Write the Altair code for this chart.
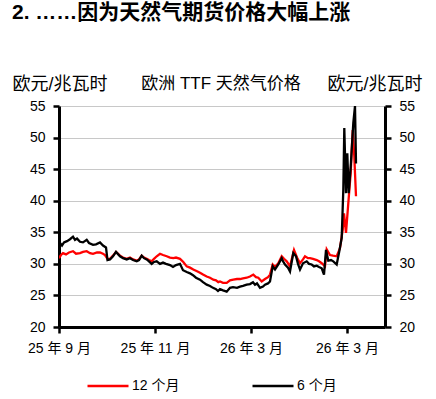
import altair as alt
import pandas as pd

# ---- data ----
x_6m = [0,1,3,5,8,11,14,16,18,21,24,27.7,30,34,37,41,44,47,48.5,51,54,57,61,64,67.7,71,74,77.7,80,82.7,85,87.7,90,92.7,95,97.7,101,104,107,111,114,117,121,124,127.7,131,134,137,141,144,147.7,151,154,157,159,161,164,167.7,171,174,178,181,184,187.7,191,194,196,198,201,204,206,209,211,213.7,216,219.3,222.7,224,226,229,231,234.3,237,239,241,244,247.7,250,252.7,255,257.7,260,262.7,265,267,269.3,272,274.3,277.7,280.3,282.7,284.3,285.3,287,288.3,289.7,291.7,294.3,296,297]
v_6m = [32.5,33.3,32.9,33.4,33.6,33.9,34.3,33.8,34.0,33.5,33.4,33.8,33.3,33.0,33.1,33.4,32.9,32.6,30.6,30.7,31.2,31.9,31.2,30.9,30.7,30.9,30.6,30.4,30.6,31.3,30.9,30.7,30.4,30.0,30.3,30.4,30.0,30.2,30.0,29.8,29.5,29.8,30.0,29.0,28.7,28.5,28.2,27.8,27.5,27.1,26.7,26.5,26.2,26.0,25.7,26.0,25.8,25.6,26.2,26.3,26.2,26.4,26.5,26.7,26.8,27.1,26.7,26.9,26.2,26.4,26.7,26.9,27.2,29.6,29.1,29.9,30.9,30.4,29.9,29.4,28.8,31.7,31.2,30.0,29.1,30.1,30.4,30.0,29.9,29.6,29.7,29.5,29.3,28.3,32.2,30.5,30.6,30.4,29.9,32.0,34.1,41.7,51.5,41.2,47.5,41.2,45.4,52.3,55.0,45.9]

x_12m = [0,2,4,7,10,14,17,21,24,27.7,31,34,38,41,44,46,48.5,51,54,57,61,64,67.7,71,74,77.7,80,82.7,85,87.7,90,92.7,95,97.7,101,104,107.7,111,114.3,117,121,124.3,127.7,131,134.3,137,141,144,147.7,151,154.3,157,159.3,161,164,167.7,171,174.3,178,181,184,187.7,191,194.3,197,199.3,202.7,206,209,211,213.7,216,219.3,222.7,225,227.7,231,235,238,241,244,246,249,251,254,257.7,260,262.7,266,267.7,271,274,277.7,281,283.7,285,287,289.3,291.7,293.7,295.3,297]
v_12m = [30.9,31.4,31.7,31.5,31.8,32.0,31.6,31.7,31.9,32.0,31.7,31.6,31.8,31.8,31.6,31.4,30.8,30.8,31.3,31.9,31.3,31.0,30.8,31.0,30.7,30.5,30.7,31.3,31.0,30.8,30.6,30.4,30.8,31.2,31.6,31.4,31.2,31.0,30.9,31.0,30.8,30.3,29.6,29.4,29.1,28.9,28.6,28.3,28.0,27.8,27.5,27.4,27.1,27.2,27.0,27.0,27.4,27.5,27.6,27.6,27.7,27.8,28.0,28.3,27.9,27.8,27.2,27.6,27.9,28.3,29.9,29.5,30.1,31.2,30.8,30.4,29.6,32.2,31.0,30.1,30.7,31.2,30.9,30.9,30.8,30.6,30.4,30.1,29.6,32.3,31.4,31.3,31.2,32.5,35.4,38.0,34.9,39.6,44.4,51.2,47.0,40.7]

series_names = ["12 个月", "6 个月"]
series_colors = ["#FF0000", "#000000"]
tick_positions = [0, 96, 192, 288]
tick_labels = ["25 年 9 月", "25 年 11 月", "26 年 3 月", "26 年 3 月"]
y_ticks = [20, 25, 30, 35, 40, 45, 50, 55]

df = pd.concat([
    pd.DataFrame({"t": x_12m, "v": v_12m, "s": series_names[0], "o": 0}),
    pd.DataFrame({"t": x_6m, "v": v_6m, "s": series_names[1], "o": 1}),
], ignore_index=True)
df6 = pd.DataFrame({"t": x_6m, "v": v_6m})

FONT = "Liberation Sans, Arial, Noto Sans CJK SC"
label_map = "{" + ",".join("'%s':'%s'" % (p, l) for p, l in zip(tick_positions, tick_labels)) + "}"
label_expr = label_map + "[toString(datum.value)]"

xscale = alt.Scale(domain=[0, 326], nice=False, zero=False)
xenc = alt.X("t:Q", scale=xscale,
             axis=alt.Axis(values=tick_positions, labelExpr=label_expr, title=None,
                           grid=False, ticks=True, tickSize=6, tickWidth=2.5, domainWidth=3,
                           domainColor="black", tickColor="black",
                           labelFontSize=14, labelPadding=8, labelColor="black",
                           labelFont=FONT, labelOverlap=False, labelFlush=False,
                           labelAlign="center"))

lines = alt.Chart(df).mark_line(strokeWidth=2.3, clip=True).encode(
    x=xenc,
    y=alt.Y("v:Q", scale=alt.Scale(domain=[20, 55], nice=False, zero=False),
            axis=alt.Axis(values=y_ticks, title="欧元/兆瓦时", titleAngle=0,
                          titleX=-47, titleY=-22, titleAlign="left", titleBaseline="middle",
                          titleFontSize=18, titleFontWeight="normal", titleFont=FONT,
                          titleColor="black",
                          grid=True, gridColor="#c8c8c8", gridWidth=1,
                          tickSize=6, tickWidth=2.5, domainWidth=3, domainColor="black",
                          tickColor="black", labelFontSize=14, labelPadding=8,
                          labelColor="black", labelFont=FONT)),
    color=alt.Color("s:N", scale=alt.Scale(domain=series_names, range=series_colors),
                    sort=series_names,
                    legend=alt.Legend(title=None, orient="none", legendX=27, legendY=258,
                                      direction="horizontal", symbolType="stroke",
                                      symbolStrokeWidth=2.3, symbolSize=1681,
                                      labelFontSize=14, labelFont=FONT, labelColor="black",
                                      labelOffset=2, columnPadding=67)),
    order=alt.Order("o:Q"),
    detail="s:N",
)

right = alt.Chart(df6).mark_line(strokeOpacity=0).encode(
    x=alt.X("t:Q", scale=xscale),
    y=alt.Y("v:Q", scale=alt.Scale(domain=[20, 55], nice=False, zero=False),
            axis=alt.Axis(orient="right", values=y_ticks, title="欧元/兆瓦时", titleAngle=0,
                          titleX=-58, titleY=-22, titleAlign="left", titleBaseline="middle",
                          titleFontSize=18, titleFontWeight="normal", titleFont=FONT,
                          titleColor="black", grid=False,
                          tickSize=6, tickWidth=2.5, domainWidth=3, domainColor="black",
                          tickColor="black", labelFontSize=14, labelPadding=8,
                          labelColor="black", labelFont=FONT)),
)

sub = alt.Chart(pd.DataFrame({"txt": ["欧洲 TTF 天然气价格"]})).mark_text(
    fontSize=17, font=FONT, color="black", baseline="middle", align="center"
).encode(text="txt:N", x=alt.value(162), y=alt.value(-22))

chart = alt.layer(lines, right, sub).resolve_scale(y="independent").properties(
    width=326, height=221,
    autosize=alt.AutoSizeParams(type="none"),
    padding={"left": 59, "top": 106, "right": 51, "bottom": 72},
    title=alt.TitleParams("2. ……因为天然气期货价格大幅上涨", anchor="start", frame="group",
                          fontSize=21, fontWeight="bold", font=FONT, color="black",
                          dx=-47, offset=52),
).configure_view(stroke=None).configure(background="white")

chart.save("out.html", embed_options={"renderer": "svg", "actions": False})
